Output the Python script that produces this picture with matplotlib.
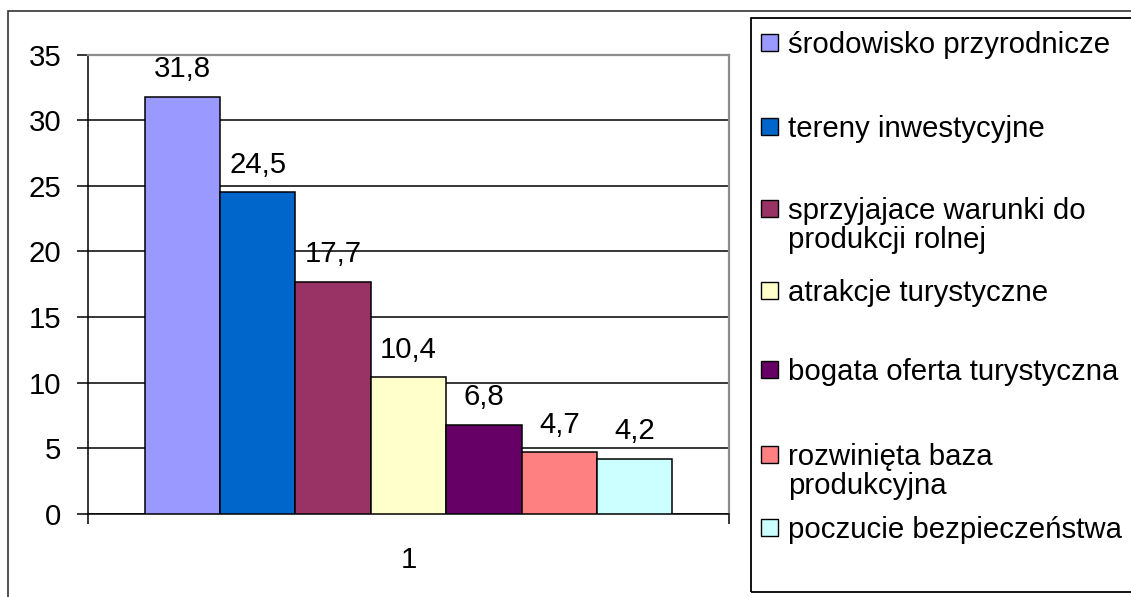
import matplotlib.pyplot as plt
import matplotlib.patches as mpatches

plt.rcParams['font.family'] = ['Liberation Sans', 'DejaVu Sans']

# data
labels = ['środowisko przyrodnicze', 'tereny inwestycyjne',
          'sprzyjajace warunki do\nprodukcji rolnej', 'atrakcje turystyczne',
          'bogata oferta turystyczna', 'rozwinięta baza\nprodukcyjna',
          'poczucie bezpieczeństwa']
values = [31.8, 24.5, 17.7, 10.4, 6.8, 4.7, 4.2]
colors = ['#9999FF', '#0066CC', '#993366', '#FFFFCC', '#660066', '#FF8080', '#CCFFFF']
category = ['1']
yticks = [0, 5, 10, 15, 20, 25, 30, 35]

W, H = 1131, 597
fx = lambda px: px / W
fy = lambda py: 1 - py / H
fs = 21.2

fig = plt.figure(figsize=(W / 100, H / 100), dpi=100)
fig.patch.set_facecolor('white')

# outer chart border + legend box (run off the right/bottom edge like the source)
fig.add_artist(mpatches.Rectangle((fx(8), -0.2), 2, fy(11) + 0.2, transform=fig.transFigure,
                                  fill=False, ec='#333333', lw=1.2, clip_on=False))
fig.add_artist(mpatches.Rectangle((fx(751), fy(592)), 2, fy(18) - fy(592), transform=fig.transFigure,
                                  fill=False, ec='black', lw=1.3, clip_on=False))

ax = fig.add_axes([fx(88), fy(514), fx(729) - fx(88), fy(54.5) - fy(514)])

n = len(values)
bw = 0.1176
for i, (v, c) in enumerate(zip(values, colors)):
    x = 1 - bw * n / 2 + bw * (i + 0.5)
    ax.bar(x, v, width=bw, color=c, edgecolor='black', linewidth=1.1, zorder=3)
    ax.annotate(('%.1f' % v).replace('.', ','), (x, v), xytext=(0, 14),
                textcoords='offset points', ha='center', va='baseline', fontsize=fs)

ax.set_xlim(0.5, 1.5)
ax.set_ylim(0, 35)
ax.set_yticks(yticks)
ax.set_xticks([1])
ax.set_xticklabels(category)
ax.set_xticks([0.5, 1.5], minor=True)
ax.set_axisbelow(True)
ax.grid(axis='y', color='black', lw=1.1)

for s in ['left', 'bottom']:
    ax.spines[s].set_color('black')
    ax.spines[s].set_linewidth(1.1)
for s in ['top', 'right']:
    ax.spines[s].set_color('#8c8c8c')
    ax.spines[s].set_linewidth(1.6)

ax.tick_params(axis='y', direction='out', length=8, width=1.1, pad=11, labelsize=fs)
ax.tick_params(axis='x', which='major', length=0, pad=23, labelsize=fs)
ax.tick_params(axis='x', which='minor', direction='out', length=7.5, width=1.1)

# legend drawn like excel: marker aligned with first text line
first_base = [53, 137, 219, 301, 380, 465, 538]
line_gap = 29
for lab, c, b in zip(labels, colors, first_base):
    fig.add_artist(mpatches.Rectangle((fx(761), fy(b - 2)), fx(17), fy(b - 19) - fy(b - 2),
                                      transform=fig.transFigure, fc=c, ec='black', lw=1.0))
    for k, line in enumerate(lab.split('\n')):
        fig.text(fx(788), fy(b + k * line_gap), line, ha='left', va='baseline', fontsize=fs)

plt.savefig('out.png', dpi=100)
plt.close()
